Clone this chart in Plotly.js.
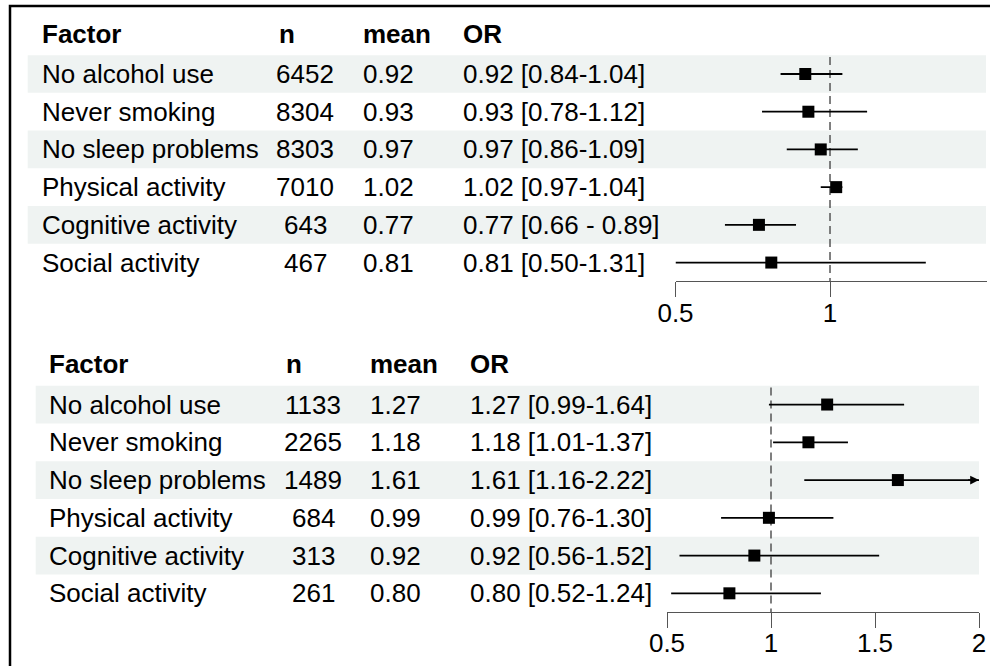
<!DOCTYPE html>
<html>
<head>
<meta charset="utf-8">
<script src="https://cdn.plot.ly/plotly-3.0.1.min.js"></script>
<style>html,body{margin:0;padding:0;background:#fff;}#chart{width:990px;height:666px;}</style>
</head>
<body>
<div id="chart"></div>
<script>
// ---------- data ----------
const headers = ["Factor", "n", "mean", "OR"];
const factors = ["No alcohol use", "Never smoking", "No sleep problems", "Physical activity", "Cognitive activity", "Social activity"];

// top panel
const n1 = [6452, 8304, 8303, 7010, 643, 467];
const mean1 = [0.92, 0.93, 0.97, 1.02, 0.77, 0.81];
const lo1 = [0.84, 0.78, 0.86, 0.97, 0.66, 0.50];
const hi1 = [1.04, 1.12, 1.09, 1.04, 0.89, 1.31];
const orText1 = ["0.92 [0.84-1.04]", "0.93 [0.78-1.12]", "0.97 [0.86-1.09]", "1.02 [0.97-1.04]", "0.77 [0.66 - 0.89]", "0.81 [0.50-1.31]"];
const ticks1 = [0.5, 1];
const tickText1 = ["0.5", "1"];

// bottom panel
const n2 = [1133, 2265, 1489, 684, 313, 261];
const mean2 = [1.27, 1.18, 1.61, 0.99, 0.92, 0.80];
const lo2 = [0.99, 1.01, 1.16, 0.76, 0.56, 0.52];
const hi2 = [1.64, 1.37, 2.22, 1.30, 1.52, 1.24];
const orText2 = ["1.27 [0.99-1.64]", "1.18 [1.01-1.37]", "1.61 [1.16-2.22]", "0.99 [0.76-1.30]", "0.92 [0.56-1.52]", "0.80 [0.52-1.24]"];
const ticks2 = [0.5, 1, 1.5, 2];
const tickText2 = ["0.5", "1", "1.5", "2"];

// ---------- layout helpers ----------
const W = 990, H = 666;
const FONT = "Liberation Sans, Arial, Helvetica, sans-serif";
const FS = 26;
const px = v => v / W;
const py = v => (H - v) / H;

const panels = [
  { n: n1, mean: mean1, lo: lo1, hi: hi1, orText: orText1, ticks: ticks1, tickText: tickText1,
    xa: "x", ya: "y", xmin: 0.5, xmax: 1.508, xd: [675.5, 987], yd: [17.45, 281.4],
    cols: { factor: 40, nHdr: 277, nVal: 305, mean: 361, or: 461 }, band: [27.7, 986] },
  { n: n2, mean: mean2, lo: lo2, hi: hi2, orText: orText2, ticks: ticks2, tickText: tickText2,
    xa: "x2", ya: "y2", xmin: 0.5, xmax: 2, xd: [667, 979], yd: [347.9, 612.2],
    cols: { factor: 47, nHdr: 284, nVal: 313, mean: 368, or: 468 }, band: [35.7, 979] }
];

const traces = [];
const annotations = [];
const shapes = [];
const layout = {
  width: W, height: H,
  margin: { l: 0, r: 0, t: 0, b: 0 },
  paper_bgcolor: "#ffffff",
  plot_bgcolor: "rgba(0,0,0,0)",
  showlegend: false,
  font: { family: FONT, size: FS, color: "#000" }
};

panels.forEach((p, k) => {
  const rows = factors.map((_, i) => i + 1);
  // CI lines
  const cx = [], cy = [];
  rows.forEach((r, i) => {
    cx.push(p.lo[i], Math.min(p.hi[i], p.xmax), null);
    cy.push(r, r, null);
  });
  traces.push({ type: "scatter", mode: "lines", x: cx, y: cy, xaxis: p.xa, yaxis: p.ya,
    line: { color: "#000", width: 1.8 }, hoverinfo: "skip", cliponaxis: false });
  // point estimates
  traces.push({ type: "scatter", mode: "markers", x: p.mean, y: rows, xaxis: p.xa, yaxis: p.ya,
    marker: { symbol: "square", size: 12, color: "#000", line: { width: 0 } }, cliponaxis: false });

  // arrows for truncated CI
  rows.forEach((r, i) => {
    if (p.hi[i] > p.xmax) {
      annotations.push({ xref: p.xa, yref: p.ya, axref: p.xa, ayref: p.ya,
        x: p.xmax, y: r, ax: p.xmax - 0.06, ay: r, text: "", showarrow: true,
        arrowhead: 2, arrowsize: 1.1, arrowwidth: 1.6, arrowcolor: "#000", standoff: 0 });
    }
  });

  // axes
  const suffix = k === 0 ? "" : "2";
  layout["xaxis" + suffix] = {
    domain: [px(p.xd[0]), px(p.xd[1])], range: [p.xmin, p.xmax], anchor: p.ya,
    tickmode: "array", tickvals: p.ticks, ticktext: p.tickText,
    ticks: "outside", ticklen: 15, tickwidth: 1, tickcolor: "#555",
    ticklabelstandoff: -7,
    showline: true, linecolor: "#555", linewidth: 1, showgrid: false, zeroline: false,
    tickfont: { family: FONT, size: FS, color: "#000" }, fixedrange: true
  };
  layout["yaxis" + suffix] = {
    domain: [py(p.yd[1]), py(p.yd[0])], range: [6.5, -0.5], anchor: p.xa,
    showticklabels: false, showgrid: false, zeroline: false, showline: false, ticks: "", fixedrange: true
  };

  // shaded bands
  rows.forEach(r => {
    if (r % 2 === 1) {
      shapes.push({ type: "rect", xref: "paper", yref: p.ya, x0: px(p.band[0]), x1: px(p.band[1]),
        y0: r - 0.5, y1: r + 0.5, fillcolor: "#eff3f2", line: { width: 0 }, layer: "below" });
    }
  });
  // reference line
  shapes.push({ type: "line", xref: p.xa, yref: p.ya, x0: 1, x1: 1, y0: 0.55, y1: 6.5,
    line: { color: "#555", width: 1.5, dash: "8px,5px" }, layer: "below" });

  // headers
  const hy = -0.07;
  const hx = [p.cols.factor, p.cols.nHdr, p.cols.mean, p.cols.or];
  headers.forEach((h, j) => {
    annotations.push({ xref: "paper", yref: p.ya, x: px(hx[j]), y: hy, xanchor: "left", yanchor: "middle",
      text: "<b>" + h + "</b>", showarrow: false, font: { family: FONT, size: FS, color: "#000" } });
  });
  // cells
  rows.forEach((r, i) => {
    const cell = (txt, x, anchor) => annotations.push({ xref: "paper", yref: p.ya, x: px(x), y: r,
      xanchor: anchor, yanchor: "middle", text: txt, showarrow: false,
      font: { family: FONT, size: FS, color: "#000" } });
    cell(factors[i], p.cols.factor, "left");
    cell(String(p.n[i]), p.cols.nVal, "center");
    cell(p.mean[i].toFixed(2), p.cols.mean, "left");
    cell(p.orText[i], p.cols.or, "left");
  });
});

// outer frame
shapes.push({ type: "rect", xref: "paper", yref: "paper", x0: px(10), x1: 1.02, y0: -0.02, y1: py(6),
  line: { color: "#000", width: 2.5 }, fillcolor: "rgba(0,0,0,0)", layer: "above" });

layout.shapes = shapes;
layout.annotations = annotations;

Plotly.newPlot("chart", traces, layout, { displayModeBar: false, staticPlot: true });
</script>
</body>
</html>
